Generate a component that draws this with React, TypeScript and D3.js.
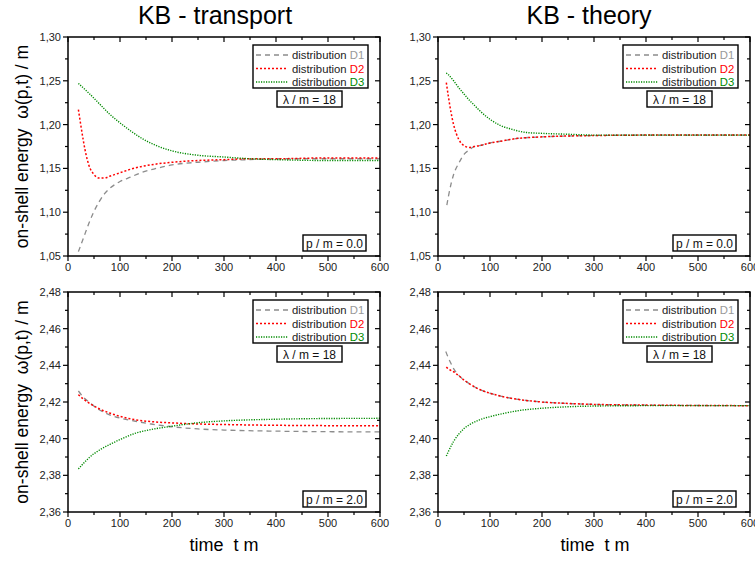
import React from "react";
import * as d3 from "d3";

// ---------- data ----------
const xTicks = [0, 100, 200, 300, 400, 500, 600];
const yTicksP0 = [1.05, 1.1, 1.15, 1.2, 1.25, 1.3];
const yTicksP2 = [2.36, 2.38, 2.4, 2.42, 2.44, 2.46, 2.48];

// KB - transport, p/m = 0.0
const tTrD1P0 = [20, 30, 40, 50, 60, 70, 80, 100, 120, 140, 170, 200, 250, 300, 350, 400, 500, 600];
const trD1P0 = [1.055, 1.071, 1.087, 1.101, 1.112, 1.121, 1.127, 1.135, 1.140, 1.145, 1.150, 1.154, 1.157, 1.159, 1.160, 1.161, 1.161, 1.161];
const tTrD2P0 = [20, 25, 30, 35, 40, 50, 60, 70, 80, 100, 120, 140, 170, 200, 250, 300, 350, 400, 500, 600];
const trD2P0 = [1.217, 1.198, 1.180, 1.165, 1.154, 1.143, 1.139, 1.139, 1.141, 1.145, 1.149, 1.152, 1.155, 1.157, 1.159, 1.160, 1.161, 1.161, 1.162, 1.162];
const tTrD3P0 = [20, 40, 60, 80, 100, 120, 140, 170, 200, 250, 300, 350, 400, 500, 600];
const trD3P0 = [1.247, 1.236, 1.224, 1.212, 1.202, 1.193, 1.185, 1.176, 1.170, 1.165, 1.163, 1.161, 1.160, 1.159, 1.159];

// KB - theory, p/m = 0.0
const tThD1P0 = [17, 20, 25, 30, 40, 50, 60, 70, 80, 100, 120, 150, 200, 250, 300, 400, 500, 600];
const thD1P0 = [1.108, 1.118, 1.132, 1.143, 1.156, 1.166, 1.171, 1.175, 1.176, 1.179, 1.181, 1.184, 1.186, 1.187, 1.1875, 1.188, 1.188, 1.188];
const tThD2P0 = [16, 20, 25, 30, 35, 40, 50, 60, 70, 80, 100, 120, 150, 200, 250, 300, 400, 500, 600];
const thD2P0 = [1.248, 1.232, 1.214, 1.200, 1.190, 1.183, 1.176, 1.174, 1.175, 1.176, 1.179, 1.181, 1.184, 1.186, 1.187, 1.1875, 1.188, 1.188, 1.188];
const tThD3P0 = [16, 20, 30, 40, 50, 60, 70, 80, 100, 120, 140, 170, 200, 250, 300, 400, 600];
const thD3P0 = [1.259, 1.257, 1.250, 1.242, 1.235, 1.228, 1.222, 1.216, 1.206, 1.199, 1.195, 1.191, 1.190, 1.189, 1.188, 1.188, 1.188];

// KB - transport, p/m = 2.0
const tTrD1P2 = [20, 30, 40, 60, 80, 100, 130, 160, 200, 250, 300, 400, 500, 600];
const trD1P2 = [2.426, 2.4225, 2.420, 2.4158, 2.4130, 2.4112, 2.4095, 2.4080, 2.4065, 2.4053, 2.4047, 2.4041, 2.4038, 2.4037];
const tTrD2P2 = [20, 30, 40, 60, 80, 100, 130, 160, 200, 250, 300, 400, 500, 600];
const trD2P2 = [2.4240, 2.4215, 2.4195, 2.4163, 2.4140, 2.4122, 2.4103, 2.4093, 2.4086, 2.4080, 2.4077, 2.4073, 2.4071, 2.4070];
const tTrD3P2 = [20, 30, 40, 60, 80, 100, 130, 160, 200, 250, 300, 400, 500, 600];
const trD3P2 = [2.3835, 2.3866, 2.3895, 2.3937, 2.3968, 2.3995, 2.4030, 2.4050, 2.4068, 2.4087, 2.4097, 2.4106, 2.4110, 2.4111];

// KB - theory, p/m = 2.0
const tThD1P2 = [15, 20, 25, 30, 40, 50, 60, 80, 100, 130, 160, 200, 250, 300, 400, 500, 600];
const thD1P2 = [2.4475, 2.4440, 2.4410, 2.4382, 2.4345, 2.4320, 2.4300, 2.4268, 2.4248, 2.4226, 2.4212, 2.4200, 2.4192, 2.4187, 2.4183, 2.4181, 2.4180];
const tThD2P2 = [16, 20, 30, 40, 50, 60, 80, 100, 130, 160, 200, 250, 300, 400, 500, 600];
const thD2P2 = [2.4390, 2.4380, 2.4365, 2.4343, 2.4320, 2.4300, 2.4268, 2.4248, 2.4226, 2.4212, 2.4200, 2.4192, 2.4187, 2.4183, 2.4181, 2.4180];
const tThD3P2 = [16, 20, 30, 40, 50, 60, 80, 100, 130, 160, 200, 250, 300, 400, 600];
const thD3P2 = [2.3905, 2.3930, 2.3985, 2.4025, 2.4055, 2.4075, 2.4103, 2.4120, 2.4140, 2.4155, 2.4166, 2.4174, 2.4178, 2.4180, 2.4180];

const seriesNames = ["D1", "D2", "D3"];
const seriesColors = ["#8c8c8c", "#ff0000", "#008a00"];
const seriesDash = ["5,4", "2,2", "1.2,1.3"];
const seriesWidth = [1.3, 1.5, 1.4];

const titles = ["KB - transport", "KB - theory"];
const lambdaLabel = "λ / m = 18";
const pLabels = ["p / m = 0.0", "p / m = 2.0"];
const yLabel = "on-shell energy  ω(p,t) / m";
const xLabel = "time  t m";

const FONT = "'Liberation Sans', Arial, Helvetica, sans-serif";

type Series = { t: number[]; v: number[] };

function fmt(v: number) {
  return v.toFixed(2).replace(".", ",");
}

function Panel(props: {
  x0: number; x1: number; y0: number; y1: number;
  yDomain: [number, number]; yTicks: number[]; yMinorStep: number;
  series: Series[]; pLabel: string; clipId: string;
}) {
  const { x0, x1, y0, y1, yDomain, yTicks, yMinorStep, series, pLabel, clipId } = props;
  const xs = d3.scaleLinear().domain([0, 600]).range([x0, x1]);
  const ys = d3.scaleLinear().domain(yDomain).range([y1, y0]);
  const xMinor = d3.range(0, 601, 50).filter((v) => v % 100 !== 0);
  const nMinor = Math.round((yDomain[1] - yDomain[0]) / yMinorStep);
  const yMinor = d3.range(0, nMinor + 1).map((i) => yDomain[0] + i * yMinorStep)
    .filter((_, i) => i % 2 === 1);
  const line = (s: Series) =>
    d3.line<number>().x((_, i) => xs(s.t[i])).y((d) => ys(d)).curve(d3.curveMonotoneX)(s.v) || "";
  const lgL = x1 - 127, lgR = x1 - 12, lgT = y0 + 8, lgB = y0 + 51;
  return (
    <g>
      <defs>
        <clipPath id={clipId}><rect x={x0} y={y0} width={x1 - x0} height={y1 - y0} /></clipPath>
      </defs>
      {/* curves */}
      <g clipPath={`url(#${clipId})`}>
        {series.map((s, i) => (
          <path key={i} d={line(s)} fill="none" stroke={seriesColors[i]}
            strokeWidth={seriesWidth[i]} strokeDasharray={seriesDash[i]} />
        ))}
      </g>
      {/* ticks */}
      {xTicks.map((t) => (
        <g key={"xt" + t}>
          <line x1={xs(t)} x2={xs(t)} y1={y1} y2={y1 + 5} stroke="#000" strokeWidth={1.2} />
          <line x1={xs(t)} x2={xs(t)} y1={y0} y2={y0 + 5} stroke="#000" strokeWidth={1.2} />
          <text x={xs(t)} y={y1 + 15} fontSize={11} textAnchor="middle" fill="#222" fontFamily={FONT}>{t}</text>
        </g>
      ))}
      {xMinor.map((t) => (
        <g key={"xm" + t}>
          <line x1={xs(t)} x2={xs(t)} y1={y1} y2={y1 + 3} stroke="#000" strokeWidth={1.2} />
          <line x1={xs(t)} x2={xs(t)} y1={y0} y2={y0 + 3} stroke="#000" strokeWidth={1.2} />
        </g>
      ))}
      {yTicks.map((v) => (
        <g key={"yt" + v}>
          <line x1={x0 - 5} x2={x0} y1={ys(v)} y2={ys(v)} stroke="#000" strokeWidth={1.2} />
          <line x1={x1 - 5} x2={x1} y1={ys(v)} y2={ys(v)} stroke="#000" strokeWidth={1.2} />
          <text x={x0 - 7} y={ys(v) + 4} fontSize={11} textAnchor="end" fill="#222" fontFamily={FONT}>{fmt(v)}</text>
        </g>
      ))}
      {yMinor.map((v, i) => (
        <g key={"ym" + i}>
          <line x1={x0 - 3} x2={x0} y1={ys(v)} y2={ys(v)} stroke="#000" strokeWidth={1.2} />
          <line x1={x1 - 3} x2={x1} y1={ys(v)} y2={ys(v)} stroke="#000" strokeWidth={1.2} />
        </g>
      ))}
      {/* frame */}
      <rect x={x0} y={y0} width={x1 - x0} height={y1 - y0} fill="none" stroke="#000" strokeWidth={1.5} />
      {/* legend */}
      <rect x={lgL} y={lgT} width={lgR - lgL} height={lgB - lgT} fill="#fff" stroke="#000" strokeWidth={1.4} />
      {seriesNames.map((n, i) => {
        const yy = lgT + 10 + i * 13.5;
        return (
          <g key={"lg" + n}>
            <line x1={lgL + 3} x2={lgL + 35} y1={yy} y2={yy} stroke={seriesColors[i]}
              strokeWidth={seriesWidth[i]} strokeDasharray={seriesDash[i]} />
            <text x={lgL + 39} y={yy + 4} fontSize={11.3} fontFamily={FONT} fill="#222">
              distribution <tspan fill={seriesColors[i] === "#8c8c8c" ? "#999" : seriesColors[i]}>{n}</tspan>
            </text>
          </g>
        );
      })}
      <rect x={x1 - 103} y={y0 + 54} width={65} height={16} fill="#fff" stroke="#000" strokeWidth={1.4} />
      <text x={x1 - 70.5} y={y0 + 66.5} fontSize={12} textAnchor="middle" fontFamily={FONT} fill="#111">{lambdaLabel}</text>
      <rect x={x1 - 77} y={y1 - 21} width={63} height={16} fill="#fff" stroke="#000" strokeWidth={1.4} />
      <text x={x1 - 45.5} y={y1 - 8.5} fontSize={12} textAnchor="middle" fontFamily={FONT} fill="#111">{pLabel}</text>
    </g>
  );
}

export default function App() {
  const W = 755, H = 561;
  const cols = [[68, 380], [438, 750]];
  const rows = [[37, 256], [292, 512]];
  const data: Series[][][] = [
    [
      [{ t: tTrD1P0, v: trD1P0 }, { t: tTrD2P0, v: trD2P0 }, { t: tTrD3P0, v: trD3P0 }],
      [{ t: tThD1P0, v: thD1P0 }, { t: tThD2P0, v: thD2P0 }, { t: tThD3P0, v: thD3P0 }],
    ],
    [
      [{ t: tTrD1P2, v: trD1P2 }, { t: tTrD2P2, v: trD2P2 }, { t: tTrD3P2, v: trD3P2 }],
      [{ t: tThD1P2, v: thD1P2 }, { t: tThD2P2, v: thD2P2 }, { t: tThD3P2, v: thD3P2 }],
    ],
  ];
  return (
    <svg width={W} height={H} style={{ position: "absolute", left: 0, top: 0, background: "#fff" }}>
      <rect x={0} y={0} width={W} height={H} fill="#fff" />
      {titles.map((t, c) => (
        <text key={t} x={c === 0 ? 215 : 589} y={24} fontSize={25} textAnchor="middle" fontFamily={FONT} fill="#000">{t}</text>
      ))}
      {rows.map((r, ri) =>
        cols.map((c, ci) => (
          <Panel key={ri + "-" + ci} x0={c[0]} x1={c[1]} y0={r[0]} y1={r[1]}
            yDomain={ri === 0 ? [1.05, 1.3] : [2.36, 2.48]}
            yTicks={ri === 0 ? yTicksP0 : yTicksP2}
            yMinorStep={ri === 0 ? 0.025 : 0.01}
            series={data[ri][ci]} pLabel={pLabels[ri]} clipId={`clip${ri}${ci}`} />
        ))
      )}
      {rows.map((r, ri) => (
        <text key={"yl" + ri} transform={`translate(28,${(r[0] + r[1]) / 2}) rotate(-90)`}
          fontSize={17.5} textAnchor="middle" fontFamily={FONT} fill="#000" style={{ whiteSpace: "pre" }}>{yLabel}</text>
      ))}
      {cols.map((c, ci) => (
        <text key={"xl" + ci} x={ci === 0 ? 224 : 595} y={551} fontSize={18} textAnchor="middle" fontFamily={FONT} fill="#000" style={{ whiteSpace: "pre" }}>{xLabel}</text>
      ))}
    </svg>
  );
}
